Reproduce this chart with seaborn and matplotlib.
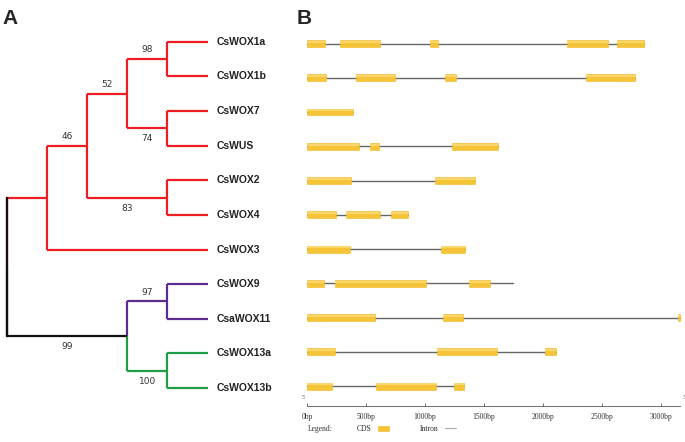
import matplotlib
matplotlib.use("Agg")
import matplotlib.pyplot as plt
import seaborn as sns
from matplotlib.patches import Patch
from matplotlib.lines import Line2D

sns.set_theme(style="white")
plt.rcParams["font.family"] = ["Liberation Sans", "DejaVu Sans"]

# --- Tree data ---
leaves = ["CsWOX1a", "CsWOX1b", "CsWOX7", "CsWUS", "CsWOX2", "CsWOX4",
          "CsWOX3", "CsWOX9", "CsaWOX11", "CsWOX13a", "CsWOX13b"]
# internal node -> children
node_children = {
    "A": ["CsWOX1a", "CsWOX1b"],
    "B": ["CsWOX7", "CsWUS"],
    "C": ["A", "B"],
    "D": ["CsWOX2", "CsWOX4"],
    "E": ["C", "D"],
    "F": ["E", "CsWOX3"],
    "G": ["CsWOX9", "CsaWOX11"],
    "H": ["CsWOX13a", "CsWOX13b"],
    "I": ["G", "H"],
    "root": ["F", "I"],
}
node_depth = {"root": 0, "F": 1, "E": 2, "C": 3, "I": 3,
              "A": 4, "B": 4, "D": 4, "G": 4, "H": 4}
leaf_depth = 5
bootstrap = {"A": 98, "B": 74, "C": 52, "D": 83, "E": 46, "G": 97, "H": 100, "I": 99}
label_above = {"A": True, "B": False, "C": True, "D": False, "E": True,
               "G": True, "H": False, "I": False}
branch_color = {"F": "#ee1d23", "E": "#ee1d23", "C": "#ee1d23", "D": "#ee1d23",
                "A": "#ee1d23", "B": "#ee1d23", "I": "#111111",
                "G": "#5c2d91", "H": "#1f9e48"}
leaf_color = {"CsWOX1a": "#ee1d23", "CsWOX1b": "#ee1d23", "CsWOX7": "#ee1d23",
              "CsWUS": "#ee1d23", "CsWOX2": "#ee1d23", "CsWOX4": "#ee1d23",
              "CsWOX3": "#ee1d23", "CsWOX9": "#5c2d91", "CsaWOX11": "#5c2d91",
              "CsWOX13a": "#1f9e48", "CsWOX13b": "#1f9e48"}

# --- Gene structure data (bp) ---
gene_cds = {
    "CsWOX1a": [(0, 155), (280, 620), (1043, 1113), (2206, 2553), (2624, 2858)],
    "CsWOX1b": [(0, 161), (415, 743), (1169, 1265), (2364, 2780)],
    "CsWOX7": [(0, 387)],
    "CsWUS": [(0, 441), (534, 610), (1232, 1616)],
    "CsWOX2": [(0, 370), (1085, 1426)],
    "CsWOX4": [(0, 248), (331, 616), (712, 853)],
    "CsWOX3": [(0, 367), (1133, 1342)],
    "CsWOX9": [(0, 141), (237, 1008), (1376, 1548)],
    "CsaWOX11": [(0, 576), (1150, 1325), (3145, 3160)],
    "CsWOX13a": [(0, 240), (1099, 1610), (2017, 2113)],
    "CsWOX13b": [(0, 215), (585, 1093), (1246, 1331)],
}
gene_length = {"CsWOX1a": 2858, "CsWOX1b": 2780, "CsWOX7": 387, "CsWUS": 1616,
               "CsWOX2": 1426, "CsWOX4": 853, "CsWOX3": 1342, "CsWOX9": 1749,
               "CsaWOX11": 3160, "CsWOX13a": 2113, "CsWOX13b": 1331}
scale_ticks = [0, 500, 1000, 1500, 2000, 2500, 3000]
scale_end = 3160

W, H = 685, 442
fig = plt.figure(figsize=(W / 100, H / 100), dpi=100)

# --- Panel A: tree ---
ax1 = fig.add_axes([0, 0, 300 / W, 1])
ax1.set_xlim(-0.17, 7.3)
ax1.set_ylim(11.56, -1.21)
ax1.axis("off")

ypos = {name: i for i, name in enumerate(leaves)}
xpos = {name: leaf_depth for name in leaves}


def place(n):
    if n in ypos:
        return ypos[n]
    ys = [place(c) for c in node_children[n]]
    ypos[n] = sum(ys) / len(ys)
    xpos[n] = node_depth[n]
    return ypos[n]


place("root")
lw = 1.6
for parent, kids in node_children.items():
    px, py = xpos[parent], ypos[parent]
    for k in kids:
        col = branch_color.get(k, leaf_color.get(k))
        ax1.plot([px, px], [py, ypos[k]], color=col, lw=lw, solid_capstyle="butt")
        ax1.plot([px, xpos[k]], [ypos[k], ypos[k]], color=col, lw=lw, solid_capstyle="butt")
        if k in bootstrap:
            mx = (px + xpos[k]) / 2
            dy = -0.27 if label_above[k] else 0.3
            ax1.text(mx, ypos[k] + dy, str(bootstrap[k]), ha="center", va="center",
                     fontsize=6.5, color="#333333", family="DejaVu Sans")
ax1.plot([0, 0], [ypos["F"], ypos["I"]], color="#111111", lw=lw, solid_capstyle="projecting")

for name in leaves:
    ax1.text(leaf_depth + 0.23, ypos[name], name, ha="left", va="center",
             fontsize=7.5, fontweight="bold", color="#222222")

fig.text(2 / W, 1 - 18 / H, "A", fontsize=15, fontweight="bold", va="center", ha="left")
fig.text(297 / W, 1 - 18 / H, "B", fontsize=15, fontweight="bold", va="center", ha="left")

# --- Panel B: gene structures ---
px_per_bp = 0.118
ax2 = fig.add_axes([297 / W, 36 / H, 388 / W, (406 - 36) / H])
ax2.set_xlim(-10 / px_per_bp, 378 / px_per_bp)
ax2.set_ylim(10.58, -0.22)
for sp in ["top", "right", "left"]:
    ax2.spines[sp].set_visible(False)
ax2.spines["bottom"].set_bounds(0, scale_end)
ax2.spines["bottom"].set_color("#555555")
ax2.spines["bottom"].set_linewidth(0.6)
ax2.set_yticks([])
ax2.set_xticks(scale_ticks)
ax2.set_xticklabels([f"{t}bp" for t in scale_ticks], family="Liberation Serif",
                    fontsize=5.5, color="#333333")
ax2.tick_params(axis="x", direction="in", length=2.5, width=0.6, color="#555555",
                pad=5, bottom=True)

for i, name in enumerate(leaves):
    ax2.plot([0, gene_length[name]], [i, i], color="#666666", lw=1.0, zorder=1)
    for s, e in gene_cds[name]:
        ax2.barh(i, e - s, left=s, height=0.2, color="#f6c437",
                 edgecolor="#f2b720", linewidth=0.4, zorder=2)
        ax2.barh(i - 0.05, e - s, left=s, height=0.06, color="#fad66e",
                 linewidth=0, zorder=3)

ax2.text(-30, 10.38, "5'", fontsize=4, family="Liberation Serif", color="#555555", ha="center")
ax2.text(scale_end + 40, 10.38, "3'", fontsize=4, family="Liberation Serif", color="#555555", ha="center")

fig.text(308 / W, 1 - 429 / H, "Legend:", fontsize=5.5, family="Liberation Serif",
         color="#333333", va="center")
handles = [Patch(facecolor="#f6c437", edgecolor="#f2b720", linewidth=0.4),
           Line2D([0], [0], color="#aaaaaa", lw=0.8)]
fig.legend(handles, ["CDS", "Intron"], ncol=2, markerfirst=False, frameon=False,
           loc="center left", bbox_to_anchor=(350 / W, 1 - 429 / H),
           prop={"family": "Liberation Serif", "size": 5.5},
           handlelength=1.5, handleheight=0.6, columnspacing=4.0, handletextpad=0.8)

fig.savefig("out.png", dpi=100)
